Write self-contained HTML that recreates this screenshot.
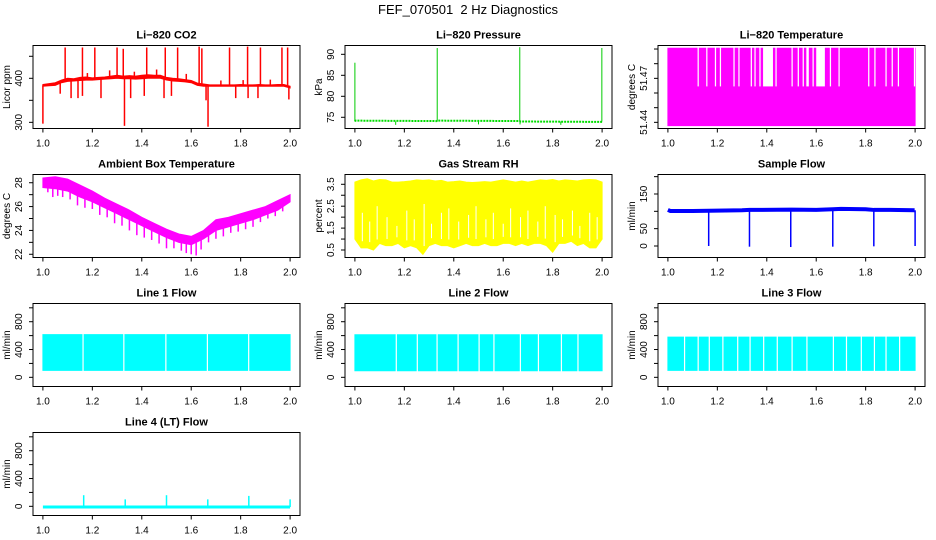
<!DOCTYPE html>
<html><head><meta charset="utf-8"><style>
html,body{margin:0;padding:0;background:#fff}
svg{display:block;font-family:"Liberation Sans",sans-serif}
</style></head><body>
<svg id="c" width="936" height="540" viewBox="0 0 936 540">
<text x="468" y="14" text-anchor="middle" font-size="13">FEF_070501&#160; 2 Hz Diagnostics</text>
</svg>
<script>
// ---- data ----
const xTicks=[1.0,1.2,1.4,1.6,1.8,2.0];
const xTickLabels=["1.0","1.2","1.4","1.6","1.8","2.0"];
const co2X=[1.0,1.025,1.05,1.075,1.1,1.125,1.15,1.175,1.2,1.225,1.25,1.275,1.3,1.325,1.35,1.375,1.4,1.425,1.45,1.475,1.5,1.525,1.55,1.575,1.6,1.625,1.65,1.675,1.7,1.725,1.75,1.775,1.8,1.825,1.85,1.875,1.9,1.925,1.95,1.975,2.0];
const co2Hi=[386,388,390,396,400,399,402,403,401,402,403,405,407,405,406,405,407,408,407,407,402,400,399,397,395,389,387,385,385,385,385,385,386,385,385,386,385,385,386,386,382];
const co2Lo=[382,383,384,390,393,394,395,396,396,397,398,399,400,399,399,398,399,400,400,400,396,394,393,392,390,384,382,382,382,382,382,382,382,382,382,382,382,382,382,382,378];
const co2SpikeX=[1.09,1.16,1.21,1.30,1.325,1.42,1.495,1.545,1.632,1.643,1.755,1.828,1.88,1.967,1.99,1.0,1.114,1.142,1.16,1.235,1.33,1.355,1.49,1.66,1.668,1.78,1.83,1.87,1.995,1.07,1.41,1.52,1.18,1.27,1.37,1.46,1.58,1.72,1.81,1.92];
const co2SpikeV=[470,470,470,470,467,470,470,470,472,468,470,472,470,470,470,297,355,355,360,355,292,355,355,350,290,355,355,355,352,365,360,360,412,418,415,420,410,395,396,397];
const presX=[1.0,1.002,1.33,1.333,1.667,1.669,2.0];
const presBase=[74,74.2,74.1,74.2,74.1,74.0,73.9];
const presSpikeX=[1.0,1.333,1.667,1.999,1.165,1.5,1.833,1.668];
const presSpikeV=[88,91.5,91.7,91.5,73.2,73.3,73.2,73.3];
const tempTop=51.4905, tempMid=51.4645, tempBot=51.4378;
const tempGapStart=[1.12,1.155,1.19,1.21,1.265,1.285,1.335,1.35,1.37,1.385,1.435,1.50,1.525,1.545,1.56,1.585,1.60,1.655,1.69,1.81,1.835,1.88,1.905,1.93,1.995];
const tempGapEnd=[1.125,1.16,1.195,1.215,1.27,1.29,1.34,1.355,1.375,1.425,1.44,1.505,1.53,1.55,1.57,1.59,1.635,1.66,1.695,1.815,1.84,1.885,1.91,1.935,2.0];
const ambX=[1.0,1.05,1.1,1.15,1.2,1.25,1.3,1.35,1.4,1.45,1.5,1.55,1.6,1.65,1.7,1.75,1.8,1.85,1.9,1.95,2.0];
const ambHi=[28.4,28.5,28.3,27.8,27.3,26.7,26.2,25.7,25.1,24.6,24.1,23.7,23.5,24.0,24.9,25.1,25.4,25.7,26.0,26.5,27.0];
const ambLo=[27.6,27.5,27.3,26.8,26.4,25.9,25.4,24.9,24.4,23.9,23.4,23.0,22.8,23.3,24.0,24.3,24.6,24.9,25.3,25.7,26.4];
const ambSpikeX=[1.02,1.04,1.06,1.08,1.11,1.14,1.17,1.2,1.23,1.26,1.29,1.32,1.35,1.38,1.41,1.44,1.47,1.5,1.53,1.56,1.58,1.6,1.62,1.64,1.67,1.7,1.73,1.76,1.79,1.82,1.85,1.88,1.91,1.94,1.97];
const ambSpikeV=[27.2,26.8,26.9,26.8,26.6,26.1,25.9,25.8,25.3,25.1,24.6,24.4,24.0,23.6,23.4,23.2,22.9,22.5,22.5,22.3,22.1,22.0,21.9,22.4,23.0,23.3,23.5,23.8,23.9,24.1,24.3,24.7,25.0,25.2,25.6];
const rhX=[1.0,1.025,1.05,1.075,1.1,1.125,1.15,1.175,1.2,1.225,1.25,1.275,1.3,1.325,1.35,1.375,1.4,1.425,1.45,1.475,1.5,1.525,1.55,1.575,1.6,1.625,1.65,1.675,1.7,1.725,1.75,1.775,1.8,1.825,1.85,1.875,1.9,1.925,1.95,1.975,2.0];
const rhHi=[3.6,3.7,3.75,3.65,3.72,3.7,3.6,3.6,3.62,3.65,3.7,3.68,3.7,3.65,3.68,3.6,3.62,3.65,3.6,3.58,3.6,3.62,3.6,3.65,3.7,3.65,3.6,3.65,3.6,3.65,3.7,3.68,3.72,3.65,3.7,3.68,3.65,3.7,3.72,3.7,3.6];
const rhLo=[1.0,0.6,0.6,0.5,0.8,0.7,0.7,0.8,0.6,0.7,0.6,0.3,0.7,0.8,0.7,0.7,0.6,0.7,0.8,0.7,0.7,0.8,0.7,0.7,0.8,0.8,0.7,0.8,0.7,0.8,0.8,0.7,0.4,0.8,0.8,0.9,0.7,0.8,0.6,0.6,1.0];
const rhStreakX=[1.03,1.06,1.09,1.13,1.17,1.21,1.24,1.28,1.31,1.35,1.38,1.42,1.46,1.49,1.53,1.56,1.6,1.63,1.67,1.7,1.74,1.77,1.81,1.84,1.88,1.91,1.95,1.98];
const rhStreakTop=[2.2,1.8,2.5,2.0,1.6,2.3,1.9,2.6,1.7,2.2,2.4,1.8,2.1,2.5,1.9,2.2,1.7,2.4,2.0,2.3,1.8,2.5,2.1,1.9,2.3,1.6,2.2,2.0];
const sfX=[1.0,1.01,1.1,1.2,1.3,1.33,1.5,1.6,1.667,1.7,1.8,1.833,1.9,1.998];
const sfV=[104,101,101,102,103,104,105,104,106,107,106,104,104,103];
const sfDropX=[1.165,1.33,1.497,1.667,1.833,2.0];
const sfDropV=[0,-2,-3,-2,-1,0];
const lineGapX1=[1.16,1.325,1.495,1.663,1.83];
const lineGapX2=[1.165,1.25,1.33,1.415,1.5,1.56,1.667,1.74,1.833,1.9];
const lineGapX3=[1.065,1.12,1.165,1.22,1.28,1.33,1.385,1.44,1.5,1.56,1.667,1.72,1.78,1.833,1.88,1.935];
const lineTop=[615,612,578];
const lineBot=[100,95,100];
const l4SpikeX=[1.165,1.333,1.5,1.667,1.833,2.0];
const l4SpikeV=[160,100,160,100,150,100];
const l4Base=-10;

// ---- layout ----
const NS="http://www.w3.org/2000/svg";
const svg=document.getElementById('c');
const W=267,H=83;
const colL=[33,345,658], rowT=[45.5,174.5,303.5,432.5];
function mk(tag,attrs,parent){const e=document.createElementNS(NS,tag);for(const k in attrs)e.setAttribute(k,attrs[k]);(parent||svg).appendChild(e);return e;}
function panel(name,title,col,row,ylo,yhi,yt,ylab,ytitle){
  const g=mk('g',{});
  
  
  const L=colL[col],T=rowT[row],B=T+H;
  const p={g,L,T,B,x:v=>L+9.9+(v-1)*247.2,y:v=>B-(v-ylo)/(yhi-ylo)*H};
  const t=mk('text',{x:L+W/2,y:T-7,'text-anchor':'middle','font-size':11,'font-weight':'bold'},g);t.textContent=title;
  
  
  const cg=mk('g',{},g);p.cg=cg;
  const box=mk('rect',{x:L,y:T,width:W,height:H,fill:'none',stroke:'#000','stroke-width':1},g);
  
  
  const xa=mk('g',{},g);
  
  
  xTicks.forEach((v,i)=>{const X=p.x(v);mk('line',{x1:X,x2:X,y1:B,y2:B+4,stroke:'#000'},xa);
    const tx=mk('text',{x:X,y:B+18,'text-anchor':'middle','font-size':10},xa);tx.textContent=xTickLabels[i];});
  const ya=mk('g',{},g);
  
  
  yt.forEach((v,i)=>{const Y=p.y(v);mk('line',{x1:L-4,x2:L,y1:Y,y2:Y,stroke:'#000'},ya);
    if(ylab[i]){const tx=mk('text',{x:0,y:0,'text-anchor':'middle','font-size':10,transform:`translate(${L-11},${Y}) rotate(-90)`},ya);tx.textContent=ylab[i];}});
  const yl=mk('text',{x:0,y:0,'text-anchor':'middle','font-size':10,transform:`translate(${L-23},${T+H/2}) rotate(-90)`},g);yl.textContent=ytitle;
  
  
  return p;
}
function band(p,xs,hi,lo,color,name){
  let d='M'+xs.map((v,i)=>p.x(v)+','+p.y(hi[i])).join('L');
  d+='L'+xs.map((v,i)=>i).reverse().map(i=>p.x(xs[i])+','+p.y(lo[i])).join('L')+'Z';
  const e=mk('path',{d,fill:color,stroke:color,'stroke-width':1},p.cg);
  
  
}
function vline(p,xv,y1,y2,color,w,name){
  const e=mk('line',{x1:p.x(xv),x2:p.x(xv),y1:p.y(y1),y2:p.y(y2),stroke:color,'stroke-width':w||1},p.cg);
  
  
}
function interp(xs,ys,v){for(let i=0;i<xs.length-1;i++){if(v<=xs[i+1])return ys[i]+(ys[i+1]-ys[i])*(v-xs[i])/(xs[i+1]-xs[i]);}return ys[ys.length-1];}

// CO2
let p=panel('co2','Li\u2212820 CO2',0,0,286,474.5,[300,350,400,450],['300','','400',''],'Licor ppm');
band(p,co2X,co2Hi,co2Lo,'#ff0000','co2-band');
co2SpikeX.forEach((v,i)=>vline(p,v,interp(co2X,co2Lo,v)+2,co2SpikeV[i],'#ff0000',1.5,'co2-spike'));
// Pressure
p=panel('pressure','Li\u2212820 Pressure',1,0,72.33,92.1,[75,80,85,90],['75','80','85','90'],'kPa');
{const e=mk('polyline',{points:presX.map((v,i)=>p.x(v)+','+p.y(presBase[i])).join(' '),fill:'none',stroke:'#00dd00','stroke-width':2,'stroke-dasharray':'2,1'},p.cg);

}
presSpikeX.forEach((v,i)=>vline(p,v,74,presSpikeV[i],'#00cc00',1,'pressure-spike'));
// Temperature
p=panel('li820-temp','Li\u2212820 Temperature',2,0,51.4358,51.4924,[51.44,51.45,51.46,51.47,51.48,51.49],['51.44','','','51.47','',''],'degrees C');
band(p,[1,2],[tempTop,tempTop],[tempBot,tempBot],'#ff00ff','temp-band');
tempGapStart.forEach((v,i)=>{const e=mk('rect',{x:p.x(v),y:p.y(tempTop)-1,width:Math.max(1,p.x(tempGapEnd[i])-p.x(v)),height:p.y(tempMid)-p.y(tempTop)+1,fill:'#fff'},p.cg);

});
// Ambient
p=panel('ambient','Ambient Box Temperature',0,1,21.73,28.69,[22,23,24,25,26,27,28],['22','','24','','26','','28'],'degrees C');
band(p,ambX,ambHi,ambLo,'#ff00ff','ambient-band');
ambSpikeX.forEach((v,i)=>vline(p,v,interp(ambX,ambLo,v),ambSpikeV[i],'#ff00ff',1.5,'ambient-spike'));
// RH
p=panel('rh','Gas Stream RH',1,1,0.158,3.947,[0.5,1,1.5,2,2.5,3,3.5],['0.5','','1.5','','2.5','','3.5'],'percent');
band(p,rhX,rhHi,rhLo,'#ffff00','rh-band');
rhStreakX.forEach((v,i)=>vline(p,v,interp(rhX,rhLo,v)+0.3,rhStreakTop[i],'#ffffff',1,'rh-gap'));
// Sample flow
p=panel('sample-flow','Sample Flow',2,1,-33.2,206.2,[0,50,100,150,200],['0','50','','150',''],'ml/min');
{const e=mk('polyline',{points:sfX.map((v,i)=>p.x(v)+','+p.y(sfV[i])).join(' '),fill:'none',stroke:'#0000ff','stroke-width':4},p.cg);

}
sfDropX.forEach((v,i)=>vline(p,v,interp(sfX,sfV,v),sfDropV[i],'#0000ff',1.5,'sample-flow-drop'));
// Line flows
const lineNames=['Line 1 Flow','Line 2 Flow','Line 3 Flow'];
const gaps=[lineGapX1,lineGapX2,lineGapX3];
lineNames.forEach((nm,k)=>{
  const q=panel('line'+(k+1)+'-flow',nm,k,2,-132,1062,[0,200,400,600,800,1000],['0','','400','','800',''],'ml/min');
  band(q,[1,2],[lineTop[k],lineTop[k]],[lineBot[k],lineBot[k]],'#00ffff','line'+(k+1)+'-band');
  gaps[k].forEach(v=>{const e=mk('rect',{x:q.x(v),y:q.y(lineTop[k])-1,width:1.2,height:q.y(lineBot[k])-q.y(lineTop[k])+2,fill:'#fff'},q.cg);
  
  });
});
// Line 4
p=panel('line4-flow','Line 4 (LT) Flow',0,3,-132,1062,[0,200,400,600,800,1000],['0','','400','','800',''],'ml/min');
{const e=mk('line',{x1:p.x(1),x2:p.x(2),y1:p.y(l4Base),y2:p.y(l4Base),stroke:'#00ffff','stroke-width':3},p.cg);

}
l4SpikeX.forEach((v,i)=>vline(p,v,l4Base,l4SpikeV[i],'#00ffff',1.5,'line4-spike'));
</script>
</body></html>
